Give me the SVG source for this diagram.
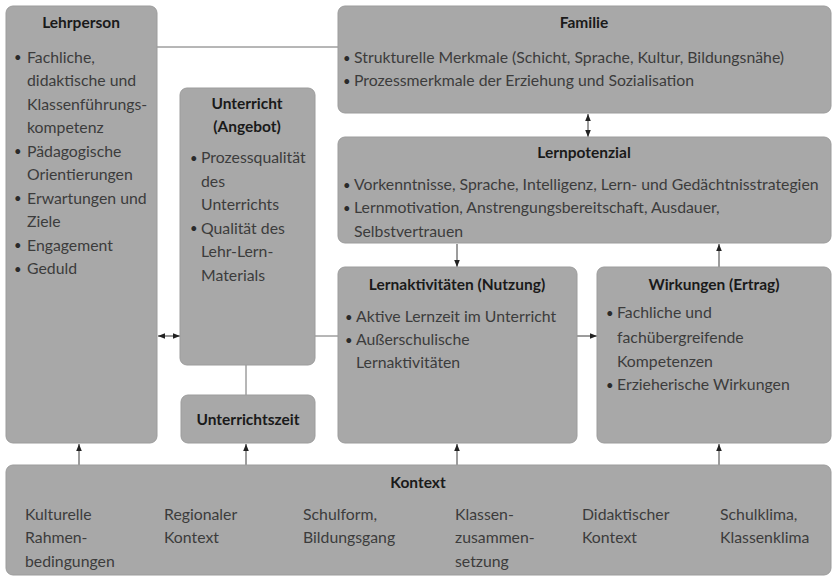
<svg xmlns="http://www.w3.org/2000/svg" width="833" height="578" viewBox="0 0 833 578">
<style>
.box{fill:#a8a8a8;stroke:#9c9c9c;stroke-width:1}
.t{font-family:Lato,"Liberation Sans",sans-serif;font-size:15.5px;font-weight:bold;fill:#1a1a1a;text-anchor:middle}
.b{font-family:Lato,"Liberation Sans",sans-serif;font-size:15.8px;fill:#3c3c3c}
.d{font-family:Lato,"Liberation Sans",sans-serif;font-size:13px;fill:#2a2a2a}
.c{stroke:#3a3a3a;stroke-width:1;fill:none}
.g{stroke:#6e6e6e;stroke-width:1;fill:none}
</style>
<defs>
<marker id="ah" viewBox="0 0 8 8" refX="8" refY="4" markerWidth="7" markerHeight="7" orient="auto-start-reverse" markerUnits="userSpaceOnUse">
<path d="M0,0.8 L8,4 L0,7.2 Z" fill="#222"/>
</marker>
</defs>
<rect width="833" height="578" fill="#ffffff"/>

<g id="connectors">
<line class="g" x1="157" y1="47" x2="338" y2="47"/>
<line class="c" x1="588" y1="114" x2="588" y2="137" marker-start="url(#ah)" marker-end="url(#ah)"/>
<line class="c" x1="457" y1="244" x2="457" y2="267" marker-end="url(#ah)"/>
<line class="c" x1="719" y1="267" x2="719" y2="244" marker-end="url(#ah)"/>
<line class="c" x1="158" y1="336" x2="180" y2="336" marker-start="url(#ah)" marker-end="url(#ah)"/>
<line class="g" x1="315" y1="336" x2="338" y2="336"/>
<line class="g" x1="246" y1="365" x2="246" y2="395"/>
<line class="c" x1="577" y1="336" x2="597" y2="336" marker-end="url(#ah)"/>
<line class="c" x1="79" y1="465" x2="79" y2="444" marker-end="url(#ah)"/>
<line class="c" x1="246" y1="465" x2="246" y2="444" marker-end="url(#ah)"/>
<line class="c" x1="457" y1="465" x2="457" y2="444" marker-end="url(#ah)"/>
<line class="c" x1="719" y1="465" x2="719" y2="444" marker-end="url(#ah)"/>
</g>

<g id="lehrperson">
<rect class="box" x="6" y="6" width="151" height="437" rx="7"/>
<text class="t" x="81" y="28">Lehrperson</text>
<text class="d" x="14" y="62">•</text><text class="b" x="27" y="62.5">Fachliche,</text>
<text class="b" x="27" y="86">didaktische und</text>
<text class="b" x="27" y="109.5">Klassenführungs-</text>
<text class="b" x="27" y="133">kompetenz</text>
<text class="d" x="14" y="156">•</text><text class="b" x="27" y="156.5">Pädagogische</text>
<text class="b" x="27" y="180">Orientierungen</text>
<text class="d" x="14" y="203">•</text><text class="b" x="27" y="203.5">Erwartungen und</text>
<text class="b" x="27" y="227">Ziele</text>
<text class="d" x="14" y="250">•</text><text class="b" x="27" y="250.5">Engagement</text>
<text class="d" x="14" y="273.5">•</text><text class="b" x="27" y="274">Geduld</text>
</g>

<g id="unterricht">
<rect class="box" x="180" y="88" width="135" height="277" rx="7"/>
<text class="t" x="247" y="109">Unterricht</text>
<text class="t" x="247" y="132">(Angebot)</text>
<text class="d" x="190" y="162.5">•</text><text class="b" x="201" y="163">Prozessqualität</text>
<text class="b" x="201" y="186.5">des</text>
<text class="b" x="201" y="210">Unterrichts</text>
<text class="d" x="190" y="233">•</text><text class="b" x="201" y="233.5">Qualität des</text>
<text class="b" x="201" y="257">Lehr-Lern-</text>
<text class="b" x="201" y="280.5">Materials</text>
</g>

<g id="unterrichtszeit">
<rect class="box" x="181" y="395" width="134" height="48" rx="7"/>
<text class="t" x="248" y="425">Unterrichtszeit</text>
</g>

<g id="familie">
<rect class="box" x="338" y="6" width="493" height="107" rx="7"/>
<text class="t" x="584" y="28">Familie</text>
<text class="d" x="343" y="62.5">•</text><text class="b" x="354" y="63">Strukturelle Merkmale (Schicht, Sprache, Kultur, Bildungsnähe)</text>
<text class="d" x="343" y="85.5">•</text><text class="b" x="354" y="86">Prozessmerkmale der Erziehung und Sozialisation</text>
</g>

<g id="lernpotenzial">
<rect class="box" x="338" y="137" width="493" height="106" rx="7"/>
<text class="t" x="584" y="158">Lernpotenzial</text>
<text class="d" x="343" y="189.5">•</text><text class="b" x="354" y="190">Vorkenntnisse, Sprache, Intelligenz, Lern- und Gedächtnisstrategien</text>
<text class="d" x="343" y="212.5">•</text><text class="b" x="354" y="213">Lernmotivation, Anstrengungsbereitschaft, Ausdauer,</text>
<text class="b" x="354" y="237">Selbstvertrauen</text>
</g>

<g id="lernaktivitaeten">
<rect class="box" x="338" y="267" width="239" height="176" rx="7"/>
<text class="t" x="457" y="290">Lernaktivitäten (Nutzung)</text>
<text class="d" x="345" y="321.5">•</text><text class="b" x="356" y="322">Aktive Lernzeit im Unterricht</text>
<text class="d" x="345" y="344.5">•</text><text class="b" x="356" y="345">Außerschulische</text>
<text class="b" x="356" y="368">Lernaktivitäten</text>
</g>

<g id="wirkungen">
<rect class="box" x="597" y="267" width="234" height="176" rx="7"/>
<text class="t" x="714" y="290">Wirkungen (Ertrag)</text>
<text class="d" x="606" y="317.5">•</text><text class="b" x="617" y="318">Fachliche und</text>
<text class="b" x="617" y="343">fachübergreifende</text>
<text class="b" x="617" y="367">Kompetenzen</text>
<text class="d" x="606" y="389.5">•</text><text class="b" x="617" y="390">Erzieherische Wirkungen</text>
</g>

<g id="kontext">
<rect class="box" x="6" y="465" width="825" height="110" rx="7"/>
<text class="t" x="418" y="488">Kontext</text>
<text class="b" x="25" y="520">Kulturelle</text>
<text class="b" x="25" y="543">Rahmen-</text>
<text class="b" x="25" y="567">bedingungen</text>
<text class="b" x="164" y="520">Regionaler</text>
<text class="b" x="164" y="543">Kontext</text>
<text class="b" x="303" y="520">Schulform,</text>
<text class="b" x="303" y="543">Bildungsgang</text>
<text class="b" x="455" y="520">Klassen-</text>
<text class="b" x="455" y="543">zusammen-</text>
<text class="b" x="455" y="567">setzung</text>
<text class="b" x="582" y="520">Didaktischer</text>
<text class="b" x="582" y="543">Kontext</text>
<text class="b" x="720" y="520">Schulklima,</text>
<text class="b" x="720" y="543">Klassenklima</text>
</g>
</svg>
